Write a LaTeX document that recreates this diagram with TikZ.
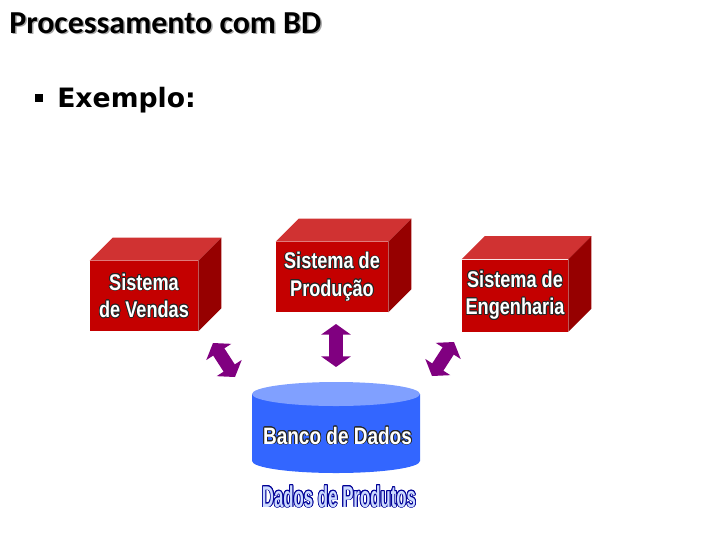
\documentclass[tikz,border=0pt]{standalone}
\usepackage{fontspec}
\usepackage{contour}
\usepackage{tikz}
\usetikzlibrary{arrows.meta,positioning,calc}
\newfontfamily\titulofont{Carlito}
\newfontfamily\exemplofont{DejaVu Sans}
\newfontfamily\caixafont[FakeStretch=0.8]{Liberation Sans Bold}
\newfontfamily\produtofont[FakeStretch=0.56]{Liberation Sans Bold}
\definecolor{frente}{RGB}{196,0,0}
\definecolor{facetopo}{RGB}{208,50,50}
\definecolor{facelado}{RGB}{150,0,0}
\definecolor{roxo}{RGB}{128,0,128}
\definecolor{azulcorpo}{RGB}{51,102,255}
\definecolor{azultampa}{RGB}{128,160,255}
\definecolor{azulclaro}{RGB}{204,218,255}
\definecolor{azulescuro}{RGB}{0,0,150}
\contourlength{0.6pt}
\newcommand{\borda}[1]{\contour{black!85}{#1}}

\begin{document}
\begin{tikzpicture}[x=0.75pt, y=-0.75pt,
    cubo/.style={fill=frente, minimum width=81pt, minimum height=52.5pt, inner sep=0pt, align=center, text=white, font=\caixafont\fontsize{17pt}{20.5pt}\selectfont},
    topo/.style={fill=facetopo},
    lado/.style={fill=facelado},
    seta/.style={draw=roxo, line width=10pt, {Triangle[width=22pt,length=8pt]}-{Triangle[width=22pt,length=8pt]}}
]
\useasboundingbox (0,0) rectangle (720,540);

% Titulo
\node[anchor=base west, inner sep=0pt, text=black!35, font=\titulofont\bfseries\fontsize{24pt}{28pt}\selectfont] (sombra) at (10.5,34.5) {Processamento com BD};
\node[anchor=base west, inner sep=0pt, font=\titulofont\bfseries\fontsize{24pt}{28pt}\selectfont] (titulo) at (9,33) {Processamento com BD};
\node[fill=black, minimum size=6pt, inner sep=0pt] (marcador) at (39,98) {};
\node[anchor=base west, inner sep=0pt, font=\exemplofont\bfseries\fontsize{20pt}{24pt}\selectfont] (exemplo) at (57,107) {Exemplo:};

% Sistemas
\node[cubo] (vendas) at (144,296) {\borda{Sistema}\\\borda{de Vendas}};
\node[cubo, minimum width=84pt] (producao) at (332,277) {\borda{Sistema de}\\\borda{Produção}};
\node[cubo, minimum width=79.5pt, minimum height=54pt] (engenharia) at (515,295.5) {\borda{Sistema de}\\\borda{Engenharia}};

\foreach \n in {vendas,producao,engenharia}{
    \fill[topo] (\n.north west) -- ++(23,-23) -- ($(\n.north east)+(23,-23)$) -- (\n.north east) -- cycle;
    \fill[lado] (\n.north east) -- ++(23,-23) -- ($(\n.south east)+(23,-23)$) -- (\n.south east) -- cycle;
}

% Banco de dados
\coordinate (cilsup) at (336,394);
\coordinate (cilinf) at (336,461);
\fill[azulcorpo] ($(cilsup)+(-84,0)$) -- ($(cilinf)+(-84,0)$) arc[start angle=180, end angle=360, x radius=63pt, y radius=9pt] -- ($(cilsup)+(84,0)$) -- cycle;
\fill[azultampa] (cilsup) ellipse[x radius=63pt, y radius=9pt];
\node[anchor=base, inner sep=0pt, text=white, font=\caixafont\fontsize{17.8pt}{20pt}\selectfont] (bd) at (337.5,444) {\borda{Banco de Dados}};
\node[anchor=base, inner sep=0pt, text=azulclaro, font=\produtofont\fontsize{22.5pt}{24pt}\selectfont] (produtos) at (339,507) {\contour{azulescuro}{Dados de Produtos}};

% Setas
\coordinate (v1) at (213,343);
\coordinate (v2) at (235,377);
\coordinate (p1) at (336,324);
\coordinate (p2) at (336,367);
\coordinate (e1) at (454,342);
\coordinate (e2) at (432,376);
\draw[seta] (v1) -- (v2);
\draw[seta] (p1) -- (p2);
\draw[seta] (e1) -- (e2);
\end{tikzpicture}
\end{document}
